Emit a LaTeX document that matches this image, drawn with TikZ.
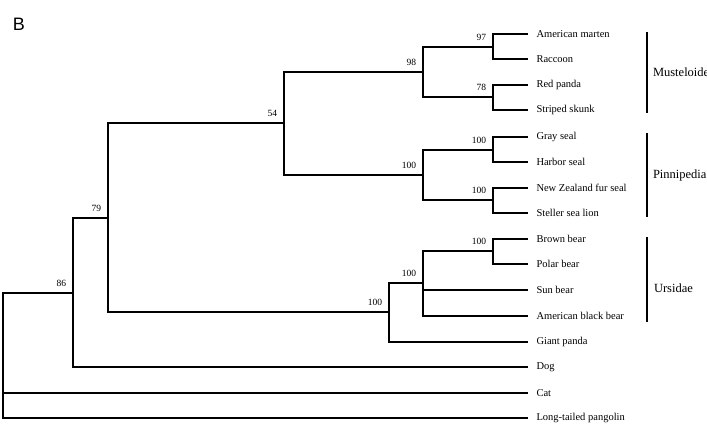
\documentclass[tikz,border=0pt]{standalone}
\usepackage{fontspec}
\setmainfont{Liberation Serif}
\newfontfamily\panelfont{Liberation Sans}
\usetikzlibrary{positioning}
\tikzset{every picture/.style={line width=2pt},
  leaf/.style={anchor=west,inner xsep=7.5pt,inner ysep=0pt,font=\fontsize{10.5}{12}\selectfont},
  boot/.style={anchor=south east,inner sep=0pt,xshift=-6pt,yshift=5pt,font=\fontsize{9.5}{11}\selectfont},
  clade/.style={anchor=west,inner sep=0pt,font=\fontsize{12.5}{14}\selectfont},
  cladebar/.style={line width=2.5pt}}

\begin{document}
\begin{tikzpicture}[x=1pt,y=-1pt]
\useasboundingbox (0,0) rectangle (707,434);
\node (panel) at (19,24) [font=\panelfont\fontsize{18}{20}\selectfont] {B};

% leaves
\node (marten) at (528,34) [leaf] {American marten};
\node (raccoon) at (528,59) [leaf] {Raccoon};
\node (redpanda) at (528,85) [leaf] {Red panda};
\node (skunk) at (528,110) [leaf] {Striped skunk};
\node (grayseal) at (528,137) [leaf] {Gray seal};
\node (harborseal) at (528,162) [leaf] {Harbor seal};
\node (furseal) at (528,188) [leaf] {New Zealand fur seal};
\node (sealion) at (528,213) [leaf] {Steller sea lion};
\node (brownbear) at (528,239) [leaf] {Brown bear};
\node (polarbear) at (528,264) [leaf] {Polar bear};
\node (sunbear) at (528,290) [leaf] {Sun bear};
\node (blackbear) at (528,316) [leaf] {American black bear};
\node (giantpanda) at (528,342) [leaf] {Giant panda};
\node (dog) at (528,367) [leaf] {Dog};
\node (cat) at (528,393) [leaf] {Cat};
\node (pangolin) at (528,418) [leaf] {Long-tailed pangolin};

% internal nodes
\coordinate (n97) at (493,47);
\coordinate (n78) at (493,97);
\coordinate (n98) at (423,72);
\coordinate (n100a) at (493,150);
\coordinate (n100b) at (493,200);
\coordinate (n100p) at (423,175);
\coordinate (n54) at (284,123);
\coordinate (n100c) at (493,251);
\coordinate (n100u) at (423,283);
\coordinate (n100g) at (389,312);
\coordinate (n79) at (108,218);
\coordinate (n86) at (73,293);
\coordinate (root) at (3,355);

\draw (marten) -| (n97) |- (raccoon);
\draw (redpanda) -| (n78) |- (skunk);
\draw (n97) -| (n98) |- (n78);
\draw (grayseal) -| (n100a) |- (harborseal);
\draw (furseal) -| (n100b) |- (sealion);
\draw (n100a) -| (n100p) |- (n100b);
\draw (n98) -| (n54) |- (n100p);
\draw (brownbear) -| (n100c) |- (polarbear);
\draw (n100c) -| (n100u) |- (blackbear);
\draw (n100u) |- (sunbear);
\draw (n100u) -| (n100g) |- (giantpanda);
\draw (n54) -| (n79) |- (n100g);
\draw (n79) -| (n86) |- (dog);
\draw (n86) -| (root) |- (pangolin);
\draw (root) |- (cat);

% bootstrap values
\node (bs97) at (n97) [boot] {97};
\node (bs78) at (n78) [boot] {78};
\node (bs98) at (n98) [boot] {98};
\node (bs100a) at (n100a) [boot] {100};
\node (bs100b) at (n100b) [boot] {100};
\node (bs100p) at (n100p) [boot] {100};
\node (bs54) at (n54) [boot] {54};
\node (bs100c) at (n100c) [boot] {100};
\node (bs100u) at (n100u) [boot] {100};
\node (bs100g) at (n100g) [boot] {100};
\node (bs79) at (n79) [boot] {79};
\node (bs86) at (n86) [boot] {86};

% clades
\coordinate (mustop) at (647,32);
\coordinate (musbot) at (647,113);
\coordinate (pintop) at (647,133);
\coordinate (pinbot) at (647,217);
\coordinate (urstop) at (647,237);
\coordinate (ursbot) at (647,322);
\draw [cladebar] (mustop) -- (musbot);
\draw [cladebar] (pintop) -- (pinbot);
\draw [cladebar] (urstop) -- (ursbot);
\node (musteloidea) at (652,72) [clade] {Musteloidea};
\node (pinnipedia) at (652,175) [clade] {Pinnipedia};
\node (ursidae) at (653,288) [clade] {Ursidae};
\end{tikzpicture}
\end{document}
